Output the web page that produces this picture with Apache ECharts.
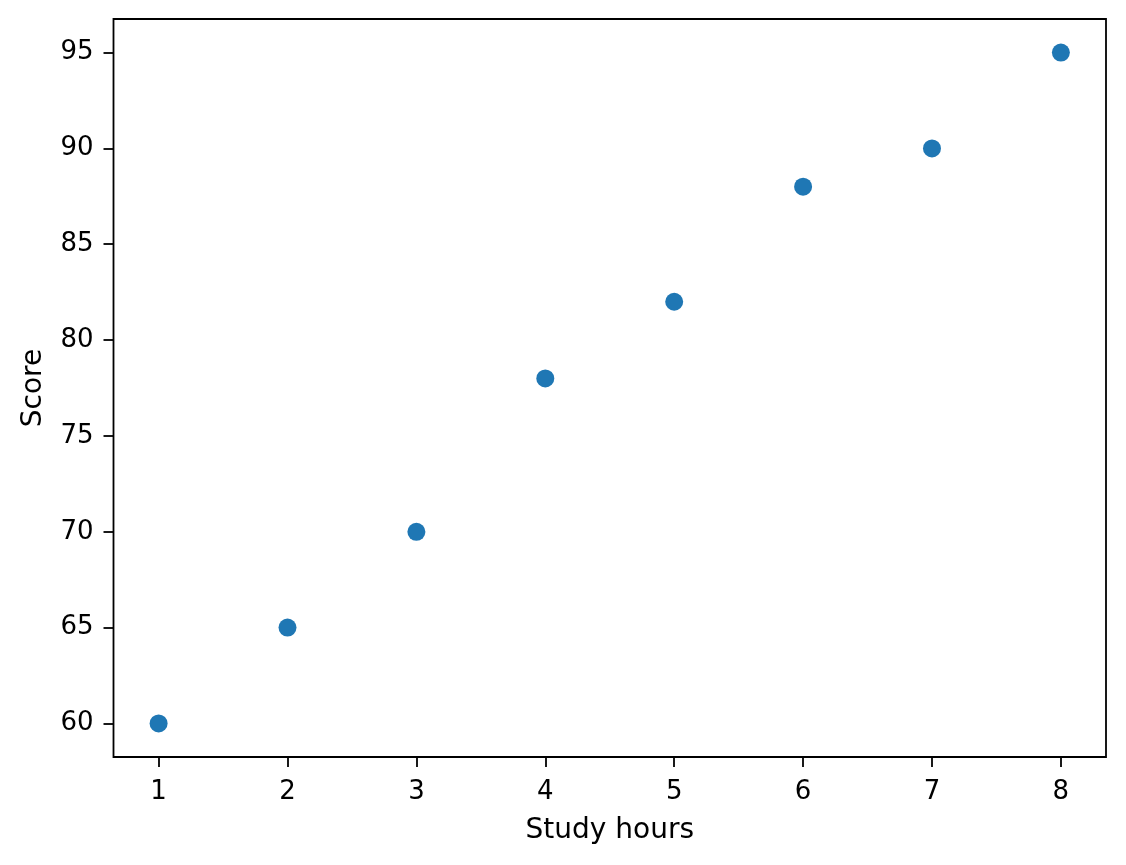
<!DOCTYPE html>
<html>
<head>
<meta charset="utf-8">
<script src="https://cdn.jsdelivr.net/npm/echarts@6/dist/echarts.min.js"></script>
<style>
html, body { margin: 0; padding: 0; background: #fff; }
#main { width: 1126px; height: 865px; }
</style>
</head>
<body>
<div id="main"></div>
<script>
var hours = [1, 2, 3, 4, 5, 6, 7, 8];
var scores = [60, 65, 70, 78, 82, 88, 90, 95];
var xTicks = [1, 2, 3, 4, 5, 6, 7, 8];
var yTicks = [60, 65, 70, 75, 80, 85, 90, 95];

var points = [];
for (var i = 0; i < hours.length; i++) {
	points.push([hours[i], scores[i]]);
}

var font = 'DejaVu Sans';
var myChart = echarts.init(document.getElementById('main'));
var option = {
	animation: false,
	backgroundColor: '#fff',
	grid: {
		left: 113.5,
		right: 20,
		top: 19,
		bottom: 108,
		show: true,
		borderColor: '#000',
		borderWidth: 1.8
	},
	xAxis: {
		type: 'value',
		min: 0.65,
		max: 8.35,
		name: 'Study hours',
		nameLocation: 'middle',
		nameGap: 60,
		nameTextStyle: {color: '#000', fontSize: 28, fontFamily: font},
		axisLine: {show: false},
		splitLine: {show: false},
		axisTick: {
			show: true,
			length: 10,
			lineStyle: {color: '#000', width: 1.8},
			customValues: xTicks
		},
		axisLabel: {
			color: '#000',
			fontSize: 26,
			fontFamily: font,
			margin: 22,
			customValues: xTicks
		}
	},
	yAxis: {
		type: 'value',
		min: 58.25,
		max: 96.75,
		name: 'Score',
		nameLocation: 'middle',
		nameGap: 66,
		nameTextStyle: {color: '#000', fontSize: 28, fontFamily: font},
		axisLine: {show: false},
		splitLine: {show: false},
		axisTick: {
			show: true,
			length: 10,
			lineStyle: {color: '#000', width: 1.8},
			customValues: yTicks
		},
		axisLabel: {
			color: '#000',
			fontSize: 26,
			fontFamily: font,
			margin: 20,
			customValues: yTicks
		}
	},
	series: [{
		type: 'scatter',
		symbol: 'circle',
		symbolSize: 18,
		itemStyle: {color: '#1f77b4', opacity: 1},
		data: points
	}]
};
myChart.setOption(option);
</script>
</body>
</html>
